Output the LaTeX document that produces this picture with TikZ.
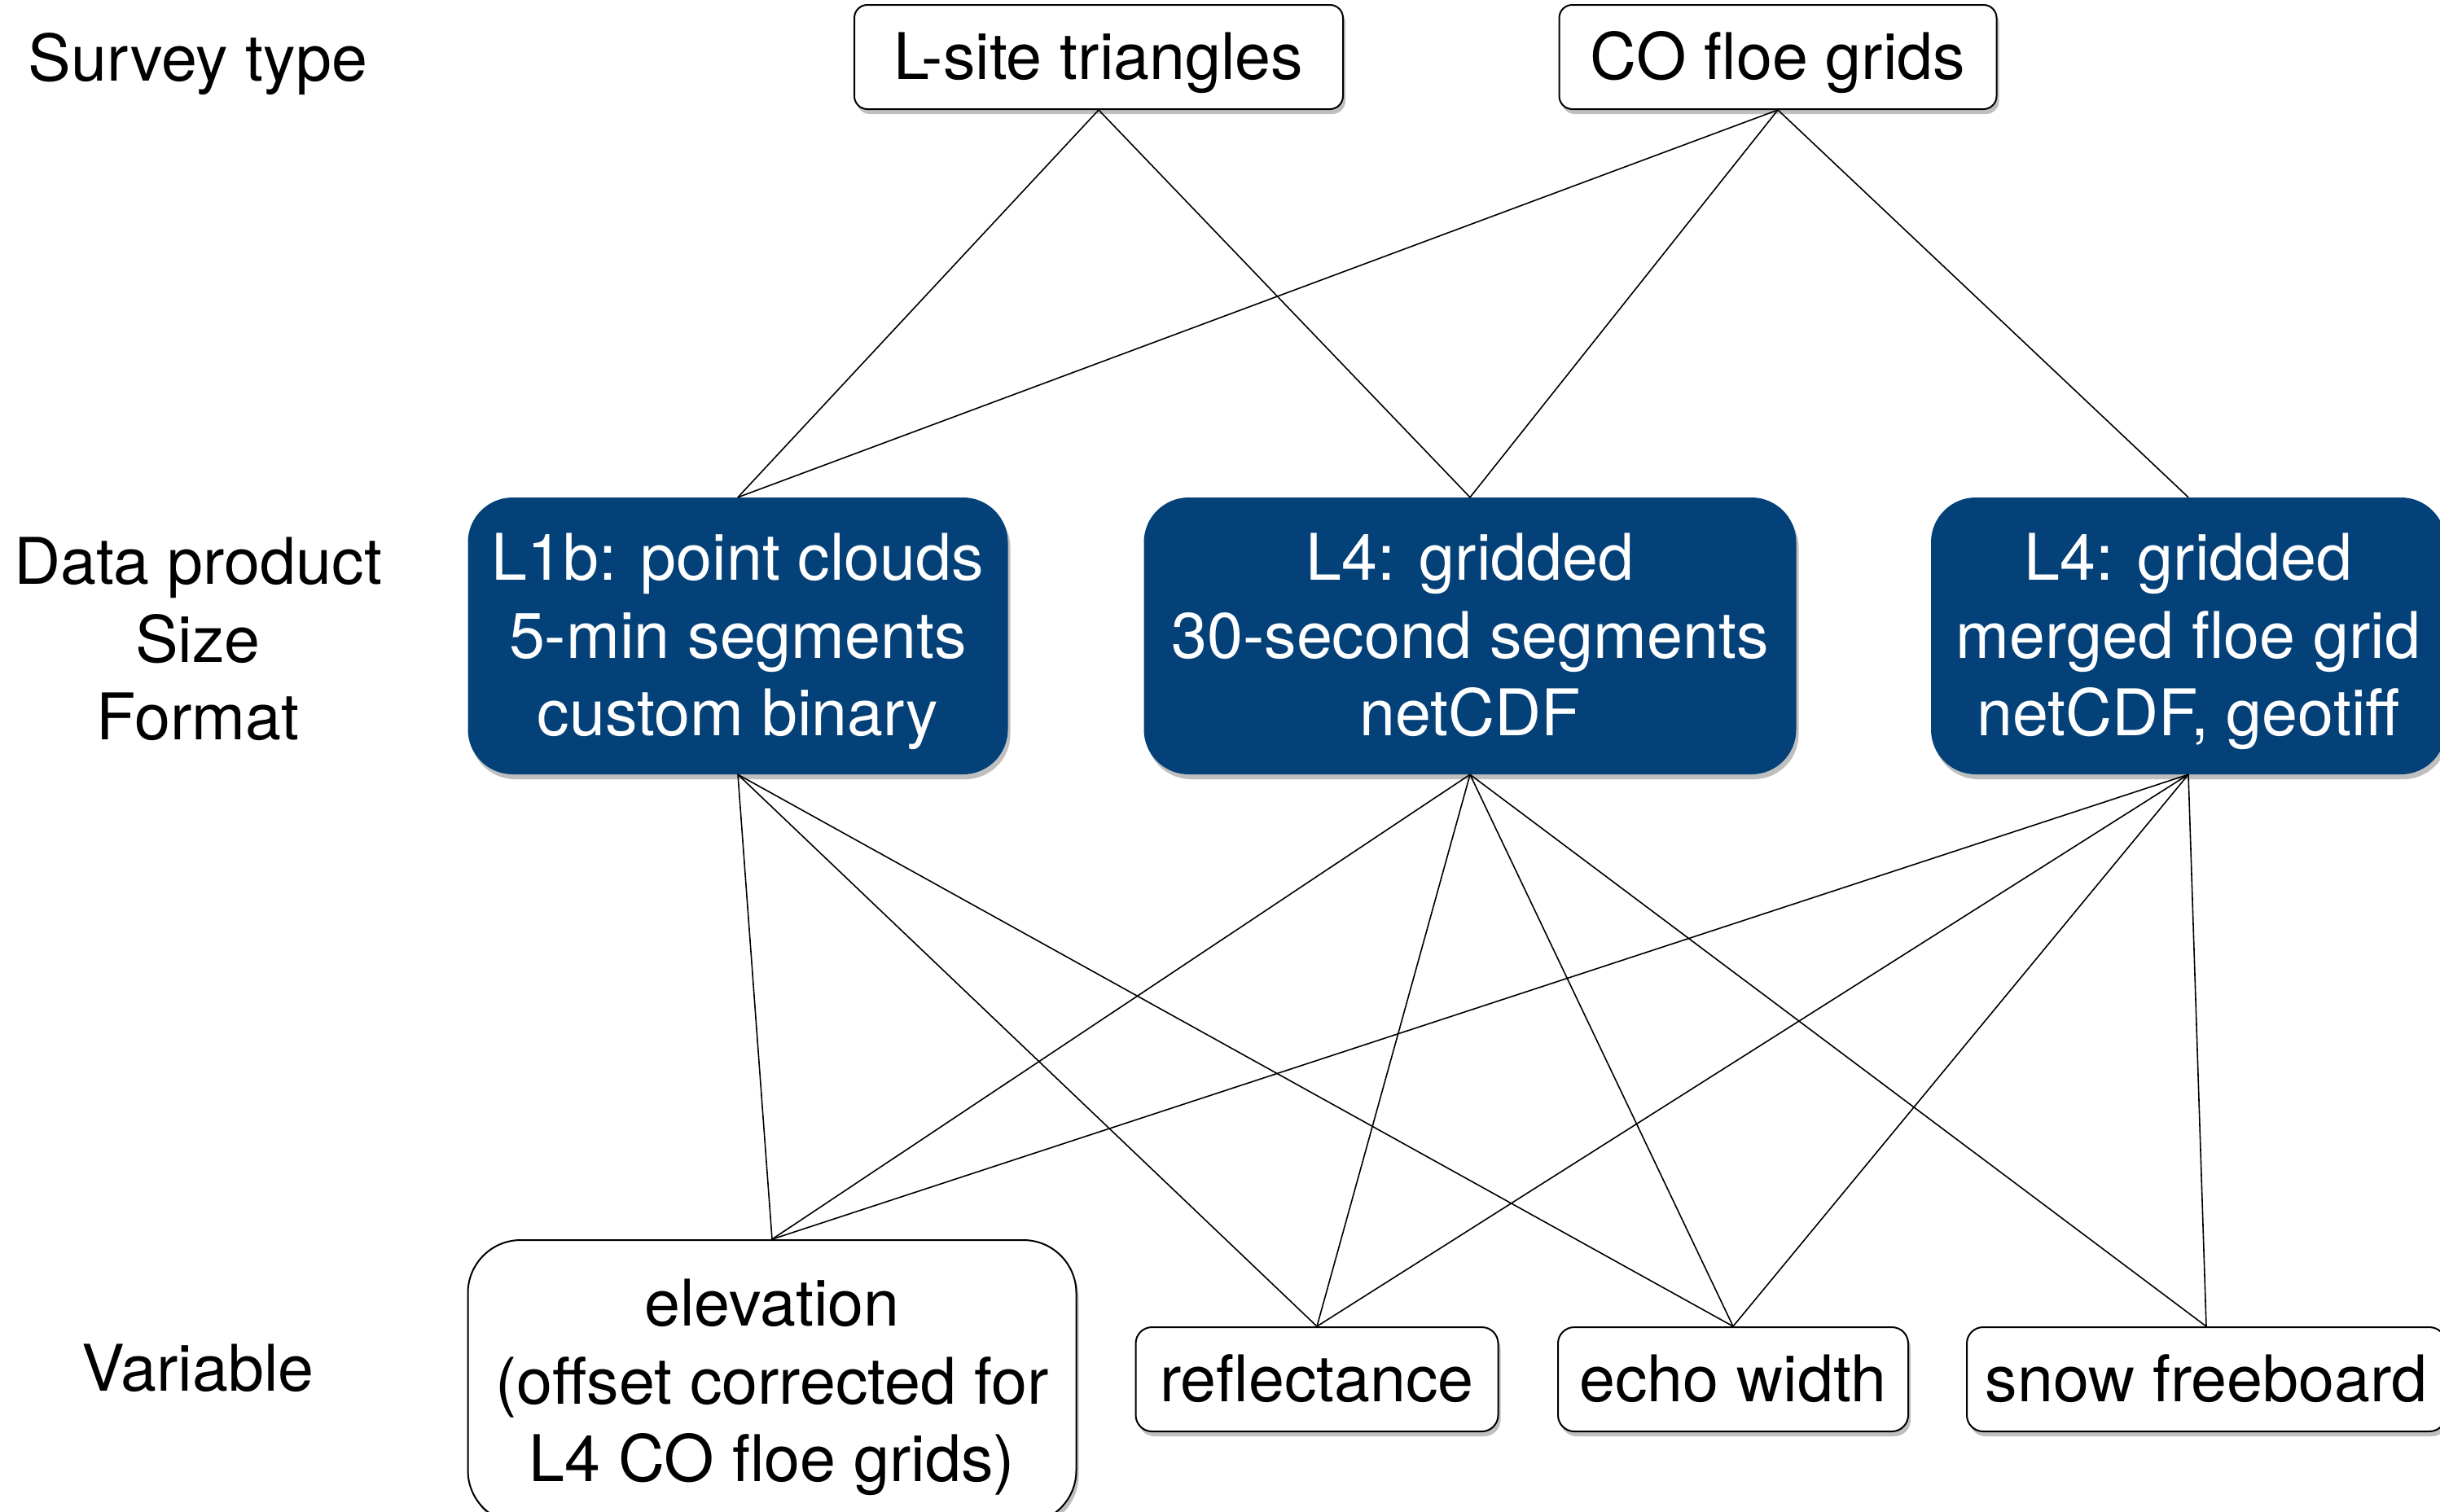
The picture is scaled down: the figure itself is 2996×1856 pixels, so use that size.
\documentclass[tikz,border=0pt]{standalone}
\usepackage{fontspec}
\setmainfont{TeX Gyre Heros}
\usetikzlibrary{shadows}
\definecolor{darkblue}{RGB}{3,65,120}
\newcommand\lowtext[1]{\raisebox{0pt}[\height][\dimexpr\depth-16pt\relax]{\begin{tabular}{@{}c@{}}#1\end{tabular}}}
\begin{document}
\begin{tikzpicture}[x=1pt,y=-1pt,
  every node/.style={font=\fontsize{79}{95.5}\selectfont, inner sep=0pt, align=center},
  boxshadow/.style={drop shadow={shadow xshift=3pt, shadow yshift=-6pt, opacity=0.25, fill=black}},
  whitebox/.style={draw=black, line width=2pt, fill=white, rounded corners=16pt, minimum height=128pt, boxshadow},
  bluebox/.style={fill=darkblue, text=white, rounded corners=55pt, minimum height=340pt, boxshadow},
  label/.style={},
  conn/.style={line width=1.6pt, black}
]
\useasboundingbox (0,0) rectangle (2996,1856);
% left labels
\node[label] (lsurvey) at (243,79) {Survey type};
\node[label] (lprod) at (243,785) {Data product\\Size\\Format};
\node[label] (lvar) at (243,1680) {Variable};
% top boxes
\node[whitebox, minimum width=600pt] (lsite) at (1349,70) {\lowtext{L-site triangles}};
\node[whitebox, minimum width=537pt] (cofloe) at (2183,70) {\lowtext{CO floe grids}};
% data products
\node[bluebox, minimum width=663pt] (d1) at (906,781) {\lowtext{L1b: point clouds\\5-min segments\\custom binary}};
\node[bluebox, minimum width=801pt] (d2) at (1805,781) {\lowtext{L4: gridded\\30-second segments\\netCDF}};
\node[bluebox, minimum width=632pt] (d3) at (2687,781) {\lowtext{L4: gridded\\merged floe grid\\netCDF, geotiff}};
% variables
\node[whitebox, rounded corners=65pt, minimum width=747pt, minimum height=348pt] (elev) at (948,1697) {\lowtext{elevation\\(offset corrected for\\L4 CO floe grids)}};
\node[whitebox, rounded corners=20pt, minimum width=445pt] (refl) at (1617,1694) {\lowtext{reflectance}};
\node[whitebox, rounded corners=20pt, minimum width=430pt] (echo) at (2128,1694) {\lowtext{echo width}};
\node[whitebox, rounded corners=20pt, minimum width=588pt] (snow) at (2709,1694) {\lowtext{snow freeboard}};
% connectors: survey -> product
\draw[conn] (lsite.south) -- (d1.north);
\draw[conn] (lsite.south) -- (d2.north);
\draw[conn] (cofloe.south) -- (d1.north);
\draw[conn] (cofloe.south) -- (d2.north);
\draw[conn] (cofloe.south) -- (d3.north);
% product -> variable
\draw[conn] (d1.south) -- (elev.north);
\draw[conn] (d1.south) -- (refl.north);
\draw[conn] (d1.south) -- (echo.north);
\draw[conn] (d2.south) -- (elev.north);
\draw[conn] (d2.south) -- (refl.north);
\draw[conn] (d2.south) -- (echo.north);
\draw[conn] (d2.south) -- (snow.north);
\draw[conn] (d3.south) -- (elev.north);
\draw[conn] (d3.south) -- (refl.north);
\draw[conn] (d3.south) -- (echo.north);
\draw[conn] (d3.south) -- (snow.north);
\end{tikzpicture}
\end{document}
